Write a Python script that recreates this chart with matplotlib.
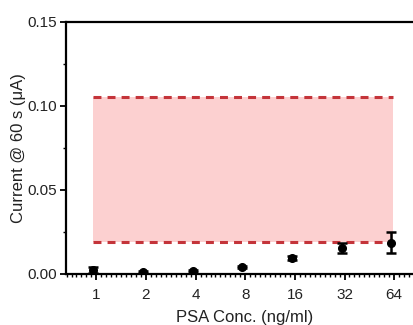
import matplotlib
matplotlib.use("Agg")
import matplotlib.pyplot as plt
from matplotlib.ticker import MultipleLocator

plt.rcParams['font.family'] = ['Liberation Sans', 'DejaVu Sans']

# PSA concentrations (ng/ml) shown as evenly spaced categories
concentrations = ["1", "2", "4", "8", "16", "32", "64"]
current_mean = [0.0024, 0.0010, 0.0020, 0.0043, 0.0093, 0.0152, 0.0186]
current_err = [0.0020, 0.0005, 0.0006, 0.0007, 0.0012, 0.0030, 0.0063]
band_low = 0.019
band_high = 0.105

positions = list(range(1, len(concentrations) + 1))
marker_pos = [p - 0.06 for p in positions]

fig = plt.figure(figsize=(4.14, 3.25), dpi=100)
ax = fig.add_axes([0.159, 0.157, 0.865, 0.776])

ax.fill_between([0.93, 6.97], band_low, band_high, color='#fcd0d0', lw=0, zorder=1)
for yv in (band_low, band_high):
    ax.plot([0.93, 6.97], [yv, yv], color='#c4343a', lw=2.2,
            dashes=(2.6, 2.0), zorder=2)

ax.errorbar(marker_pos, current_mean, yerr=current_err, fmt='o', color='black',
            ms=5.5, elinewidth=1.8, capsize=3.5, capthick=1.8, zorder=3)

ax.set_xlim(0.385, 7.6)
ax.set_ylim(0, 0.15)
ax.set_xticks(positions)
ax.set_xticklabels(concentrations)
ax.set_yticks([0.00, 0.05, 0.10, 0.15])
ax.set_yticklabels(["0.00", "0.05", "0.10", "0.15"])
ax.xaxis.set_minor_locator(MultipleLocator(0.1))
ax.yaxis.set_minor_locator(MultipleLocator(0.025))

ax.tick_params(which='major', direction='out', length=4, width=1.3,
               labelsize=11, pad=2, labelcolor='#222222')
ax.tick_params(which='minor', direction='out', length=2, width=1.0)
ax.tick_params(axis='x', which='major', pad=6)

for side in ('left', 'bottom', 'top'):
    ax.spines[side].set_linewidth(1.6)
ax.spines['right'].set_visible(False)

ax.set_xlabel("PSA Conc. (ng/ml)", fontsize=12, labelpad=6, color='#222222')
ax.set_ylabel("Current @ 60 s (μA)", fontsize=12, labelpad=1, color='#222222')

fig.savefig("out.png", dpi=100)
